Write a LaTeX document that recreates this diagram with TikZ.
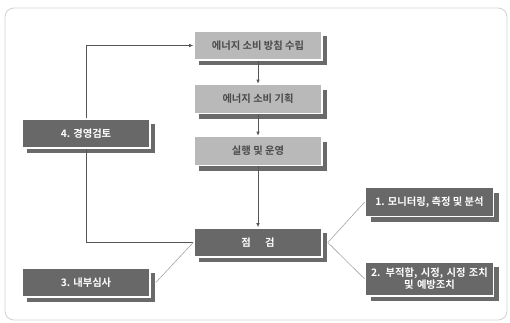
\documentclass[tikz,border=0pt]{standalone}
\usepackage{fontspec}
\newfontfamily\kr{Noto Sans CJK KR}[BoldFont={Noto Sans CJK KR Bold}]
\usetikzlibrary{arrows.meta,shadows}
\definecolor{lightbox}{HTML}{B9B9B9}
\definecolor{darkbox}{HTML}{686868}
\definecolor{shadowc}{HTML}{6A6A6A}
\definecolor{lighttext}{HTML}{4A4A4A}
\definecolor{linec}{HTML}{555555}
\tikzset{
  basebox/.style={minimum width=128pt, minimum height=29pt, inner sep=1pt, align=center,
    draw=white, line width=1.6pt,
    font=\kr\bfseries\fontsize{10.3}{12}\selectfont,
    drop shadow={shadow xshift=5pt, shadow yshift=-5pt, fill=shadowc, opacity=1}},
  lightbox/.style={basebox, fill=lightbox, text=lighttext},
  darkbox/.style={basebox, fill=darkbox, text=white},
  conn/.style={draw=linec, line width=0.7pt},
  arr/.style={conn, -{Latex[length=4pt,width=3.5pt]}},
  thin/.style={draw=gray!70, line width=0.6pt}
}
\begin{document}
\begin{tikzpicture}[x=1pt,y=-1pt]
\useasboundingbox[fill=white] (0,0) rectangle (510,322);
\draw[draw=gray!35, line width=0.8pt, rounded corners=9pt] (5,8) rectangle (507,320);
\node[lightbox] (a) at (258,45.5) {에너지 소비 방침 수립};
\node[lightbox] (b) at (258,99) {에너지 소비 기획};
\node[lightbox] (c) at (258,151) {실행 및 운영};
\node[darkbox] (d) at (258,242.5) {점\hspace{1.4em}검};
\node[darkbox] (m4) at (86,133.5) {4. 경영검토};
\node[darkbox] (m3) at (86,282.5) {3. 내부심사};
\node[darkbox] (m1) at (429.5,202) {1. 모니터링, 측정 및 분석};
\node[darkbox, minimum height=34pt, text width=124pt, font=\kr\bfseries\fontsize{10.3}{12}\selectfont] (m2) at (429.5,279) {2. 부적합, 시정, 시정 조치\\ 및 예방조치};
\draw[arr] (a) -- (b);
\draw[arr] (b) -- (c);
\draw[arr] (c) -- (d);
\draw[conn] (d.west) -| (m4.south);
\draw[arr] (m4.north) |- (a.west);
\coordinate (m3e) at ([xshift=5pt]m3.east);
\coordinate (de) at ([xshift=5pt]d.east);
\draw[thin] (d.west) -- (m3e);
\draw[thin] (de) -- (m1.west);
\draw[thin] (de) -- (m2.west);
\end{tikzpicture}
\end{document}
